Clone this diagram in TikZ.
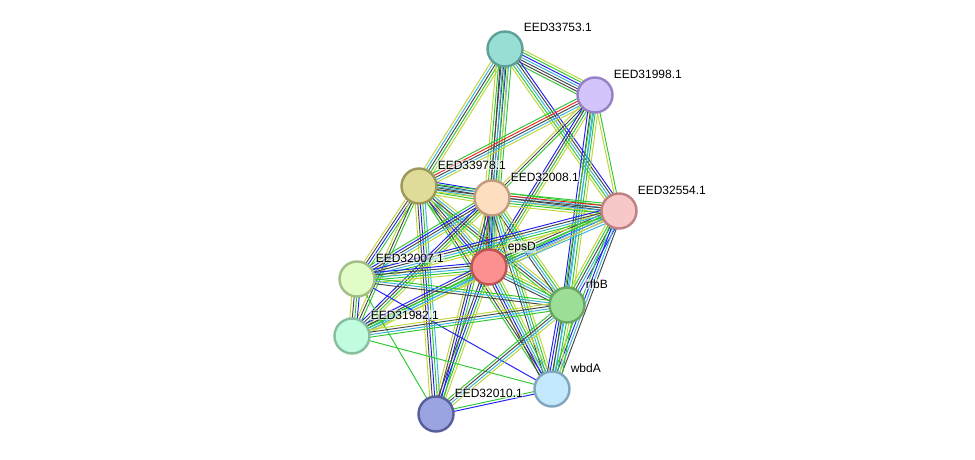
\documentclass[tikz,border=0pt]{standalone}
\usepackage{fontspec}
\setmainfont{Liberation Sans}
\usetikzlibrary{calc}
\pgfdeclarelayer{edges}
\pgfsetlayers{edges,main}

% evidence channel colours
\definecolor{eg}{RGB}{45,200,45}
\definecolor{eb}{RGB}{30,30,245}
\definecolor{ek}{RGB}{70,70,70}
\definecolor{ec}{RGB}{55,180,220}
\definecolor{ey}{RGB}{192,212,55}
\definecolor{er}{RGB}{240,35,35}
\definecolor{el}{RGB}{150,150,240}

% protein fills and rims
\definecolor{fA}{RGB}{153,222,213}\definecolor{dA}{RGB}{92,160,152}
\definecolor{fB}{RGB}{212,196,252}\definecolor{dB}{RGB}{150,128,198}
\definecolor{fC}{RGB}{222,220,152}\definecolor{dC}{RGB}{156,152,90}
\definecolor{fD}{RGB}{253,222,192}\definecolor{dD}{RGB}{192,156,124}
\definecolor{fE}{RGB}{248,200,200}\definecolor{dE}{RGB}{190,128,128}
\definecolor{fF}{RGB}{251,144,144}\definecolor{dF}{RGB}{192,84,84}
\definecolor{fG}{RGB}{226,252,200}\definecolor{dG}{RGB}{160,190,134}
\definecolor{fH}{RGB}{156,222,150}\definecolor{dH}{RGB}{104,166,98}
\definecolor{fI}{RGB}{192,252,222}\definecolor{dI}{RGB}{134,190,158}
\definecolor{fJ}{RGB}{196,232,252}\definecolor{dJ}{RGB}{128,166,190}
\definecolor{fK}{RGB}{154,164,224}\definecolor{dK}{RGB}{86,94,156}

\tikzset{
  prot/.style={circle, minimum size=35pt, inner sep=0pt, line width=2.4pt, fill=f#1, draw=d#1},
  plabel/.style={font=\fontsize{12}{14}\selectfont, anchor=base west, inner sep=0.6pt,
                 fill=white, fill opacity=0.55, text opacity=1},
  evline/.style={line width=0.95pt}
}

% a bundle of parallel lines between two nodes, one line per colour
\newcommand\evbundle[3]{%
  \foreach \cc [count=\nn] in {#3} {\xdef\bundlecount{\nn}}%
  \foreach \cc [count=\ii] in {#3} {%
    \pgfmathsetmacro\off{(\ii-(\bundlecount+1)/2)*2.5}%
    \draw[evline, color=\cc] ($(#1)!\off pt!90:(#2)$) -- ($(#2)!\off pt!-90:(#1)$);
  }%
}

\begin{document}
\begin{tikzpicture}[x=1pt, y=-1pt]
\useasboundingbox (0,0) rectangle (975,460);

% proteins
\node[prot=A] (A) at (505,49)  {};
\node[prot=B] (B) at (595,95)  {};
\node[prot=C] (C) at (419,186) {};
\node[prot=D] (D) at (492,198) {};
\node[prot=E] (E) at (619,211) {};
\node[prot=F] (F) at (489,267) {};
\node[prot=G] (G) at (357,279) {};
\node[prot=H] (H) at (567,305) {};
\node[prot=I] (I) at (352,336) {};
\node[prot=J] (J) at (552,389) {};
\node[prot=K] (K) at (436,414) {};

% labels
\node[plabel] (lA) at ($(A)+(18,-17)$) {EED33753.1};
\node[plabel] (lB) at ($(B)+(18,-17)$) {EED31998.1};
\node[plabel] (lC) at ($(C)+(18,-17)$) {EED33978.1};
\node[plabel] (lD) at ($(D)+(18,-17)$) {EED32008.1};
\node[plabel] (lE) at ($(E)+(18,-17)$) {EED32554.1};
\node[plabel] (lF) at ($(F)+(18,-17)$) {epsD};
\node[plabel] (lG) at ($(G)+(18,-17)$) {EED32007.1};
\node[plabel] (lH) at ($(H)+(18,-17)$) {rfbB};
\node[plabel] (lI) at ($(I)+(18,-17)$) {EED31982.1};
\node[plabel] (lJ) at ($(J)+(18,-17)$) {wbdA};
\node[plabel] (lK) at ($(K)+(18,-17)$) {EED32010.1};

% interactions
\begin{pgfonlayer}{edges}
\evbundle{A}{B}{eg,ek,ek,ec,eb,eg,ey}
\evbundle{A}{C}{ey,ec,ek,eg,ey}
\evbundle{A}{D}{ey,eg,ek,ek,eb,ec,eg}
\evbundle{A}{F}{ek,ec,eg,ey}
\evbundle{A}{E}{ey,eg,ec,ek,eb}
\evbundle{B}{C}{eg,er,ek,ec,ey}
\evbundle{B}{D}{ey,ek,eg}
\evbundle{B}{F}{eb,ek,eg,ey}
\evbundle{B}{H}{eb,ek,ec,eg,ey}
\evbundle{B}{J}{eg,ec}
\evbundle{B}{E}{ey,eg}
\evbundle{C}{D}{ey,eg,ec,ek,ek,eb}
\evbundle{C}{E}{ey,ek,ec,eg}
\evbundle{C}{F}{eg,eb,ek,ec,ey}
\evbundle{C}{G}{ey,ek,eb,eg}
\evbundle{C}{I}{ey,ek,eg}
\evbundle{C}{H}{eg,ek,ec,ey}
\evbundle{C}{J}{eg,ek,ey}
\evbundle{C}{K}{ey,ek,eb,eg,ec}
\evbundle{D}{E}{ey,eg,ec,ek,er,eg}
\evbundle{D}{F}{eg,er,ek,eb,ec,ey}
\evbundle{D}{G}{eg,eb,ek,ec,ey}
\evbundle{D}{I}{eb,ek,eg,ey}
\evbundle{D}{H}{ek,ec,eg,ey}
\evbundle{D}{J}{ek,ec,eg,ey}
\evbundle{D}{K}{ey,ek,eb,eg}
\evbundle{E}{F}{ey,ek,eg,eb,el,ec}
\evbundle{E}{G}{eb,ek,ec,eg,ey}
\evbundle{E}{I}{eg,ec,ey}
\evbundle{E}{H}{ey,eg,ek,ec,eb}
\evbundle{E}{J}{eg,eb,ec,ek}
\evbundle{F}{G}{eb,ek,ec,eg,ey}
\evbundle{F}{I}{eb,ek,eg,ec,ey}
\evbundle{F}{H}{ek,ec,eg,ey}
\evbundle{F}{J}{ek,eb,ec,eg,ey}
\evbundle{F}{K}{ek,eb,eg,ey}
\evbundle{G}{I}{ey,ek,eg,eb}
\evbundle{G}{H}{ek,ec,eg}
\evbundle{G}{J}{eb}
\evbundle{G}{K}{eg}
\evbundle{I}{H}{eg,ec,ek,ey}
\evbundle{I}{J}{eg}
\evbundle{H}{J}{eb,eb,ek,ec,eg,ey,eg}
\evbundle{H}{K}{eg,ek,ec,ey}
\evbundle{J}{K}{eg,eb}
\end{pgfonlayer}
\end{tikzpicture}
\end{document}
